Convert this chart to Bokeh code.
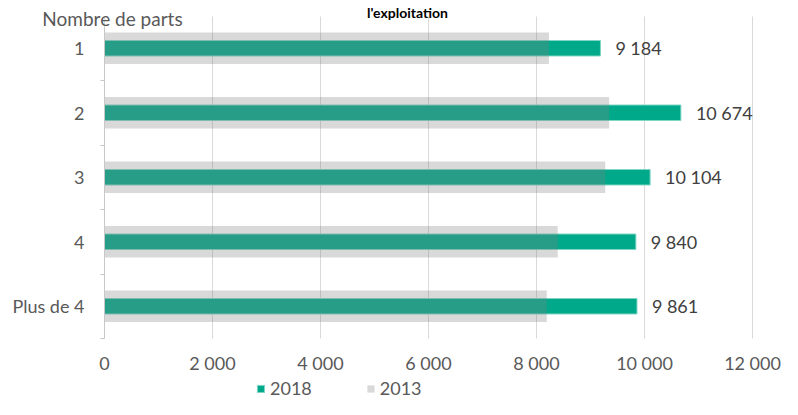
from bokeh.plotting import figure
from bokeh.models import (Range1d, ColumnDataSource, LabelSet, Label,
                          Legend, LegendItem, FixedTicker)
from bokeh.core.properties import value
from bokeh.embed import file_html
from bokeh.resources import INLINE

# ---- data ----
categories = ["1", "2", "3", "4", "Plus de 4"]
values_2018 = [9184, 10674, 10104, 9840, 9861]
values_2013 = [8230, 9345, 9273, 8393, 8190]
x_ticks = [0, 2000, 4000, 6000, 8000, 10000, 12000]
x_tick_labels = ["0", "2\u202f000", "4\u202f000", "6\u202f000", "8\u202f000", "10\u202f000", "12\u202f000"]
value_labels = [f"{v:,}".replace(",", "\u202f") for v in values_2018]
series_names = ["2018", "2013"]
title_text = "l'exploitation"
yaxis_title = "Nombre de parts"

FONT = "Lato"
GREEN = "#00A98A"
W, H = 782, 399
X0_PX = 104          # pixel of x = 0
PX_PER_1000 = 54
BAND = 64.5          # px per category
BAND_BOTTOM_PX = 338 # pixel (from top) of the bottom edge of the last category band

n = len(categories)
ypos = [n - 1 - i for i in range(n)]          # "1" at top
y_bottom = -0.5
x_start = -X0_PX / PX_PER_1000 * 1000
x_end = (W - X0_PX) / PX_PER_1000 * 1000
y_start = y_bottom - (H - BAND_BOTTOM_PX) / BAND
y_end = y_bottom + BAND_BOTTOM_PX / BAND

src = ColumnDataSource(dict(y=ypos, v2018=values_2018, v2013=values_2013, lab=value_labels))

p = figure(width=W, height=H, x_range=Range1d(x_start, x_end), y_range=Range1d(y_start, y_end),
           output_backend="svg", toolbar_location=None,
           min_border=0, min_border_left=0, min_border_right=0, min_border_top=0, min_border_bottom=0)
p.outline_line_color = None
p.background_fill_color = "white"
p.border_fill_color = "white"

# grid (vertical lines only over the category area)
ticker = FixedTicker(ticks=x_ticks)
p.ygrid.grid_line_color = None
p.xgrid.ticker = ticker
p.xgrid.grid_line_color = "#d9d9d9"
if "cross_bounds" in p.xgrid[0].properties():
    p.xgrid.cross_bounds = (y_bottom, y_bottom + n)
else:
    p.xgrid.grid_line_color = None
    p.segment(x0=x_ticks[1:], x1=x_ticks[1:], y0=[y_bottom] * (len(x_ticks) - 1),
              y1=[y_bottom + n] * (len(x_ticks) - 1), line_color="#d9d9d9", line_width=1)

green = p.hbar(y="y", left=0, right="v2018", height=0.24, source=src,
               fill_color=GREEN, line_color="#7fd6c5", line_width=1)
gray = p.hbar(y="y", left=0, right="v2013", height=0.485, source=src,
              fill_color="#828282", fill_alpha=0.3, line_color=None)

labels = LabelSet(x="v2018", y="y", text="lab", source=src, x_offset=15,
                  text_baseline="middle", text_align="left",
                  text_font=value(FONT), text_font_size="18px", text_color="#404040")
p.add_layout(labels)

# axes, fixed inside the frame
p.xaxis.fixed_location = y_bottom
p.xaxis.ticker = ticker
p.xaxis.major_label_overrides = {t: l for t, l in zip(x_ticks, x_tick_labels)}
p.xaxis.axis_line_color = None
p.xaxis.major_tick_line_color = None
p.xaxis.minor_tick_line_color = None
p.xaxis.major_label_standoff = 7
p.xaxis.major_label_text_font = FONT
p.xaxis.major_label_text_font_size = "18px"
p.xaxis.major_label_text_color = "#595959"

p.yaxis.fixed_location = 0
p.yaxis.ticker = FixedTicker(ticks=ypos, minor_ticks=[y - 0.5 for y in ypos])
p.yaxis.major_label_overrides = {y: c for y, c in zip(ypos, categories)}
p.yaxis.bounds = (y_bottom, y_bottom + n - 0.18)
p.yaxis.axis_line_color = "#c8c8c8"
p.yaxis.major_tick_line_color = None
p.yaxis.minor_tick_line_color = "#c8c8c8"
p.yaxis.minor_tick_out = 4
p.yaxis.minor_tick_in = 0
p.yaxis.major_tick_out = 0
p.yaxis.major_tick_in = 0
p.yaxis.major_label_standoff = 16
p.yaxis.major_label_text_font = FONT
p.yaxis.major_label_text_font_size = "18px"
p.yaxis.major_label_text_color = "#595959"

# top texts
p.add_layout(Label(x=148, y=y_end - 18 / BAND, text=yaxis_title, text_align="center",
                   text_baseline="middle", text_font=FONT, text_font_size="19px",
                   text_color="#595959"))
p.add_layout(Label(x=5611, y=y_end - 12 / BAND, text=title_text, text_align="center",
                   text_baseline="alphabetic", text_font=FONT, text_font_size="14px",
                   text_font_style="bold", text_color="#000000"))

legend = Legend(items=[LegendItem(label=series_names[0], renderers=[green]),
                       LegendItem(label=series_names[1], renderers=[gray])],
                orientation="horizontal", location=(256, 0),
                glyph_width=9, glyph_height=9, label_standoff=5, spacing=54,
                padding=0, margin=0, border_line_color=None, background_fill_alpha=0,
                label_text_font=FONT, label_text_font_size="18px", label_text_color="#595959")
p.add_layout(legend)

open("out.html", "w").write(file_html(p, INLINE))
